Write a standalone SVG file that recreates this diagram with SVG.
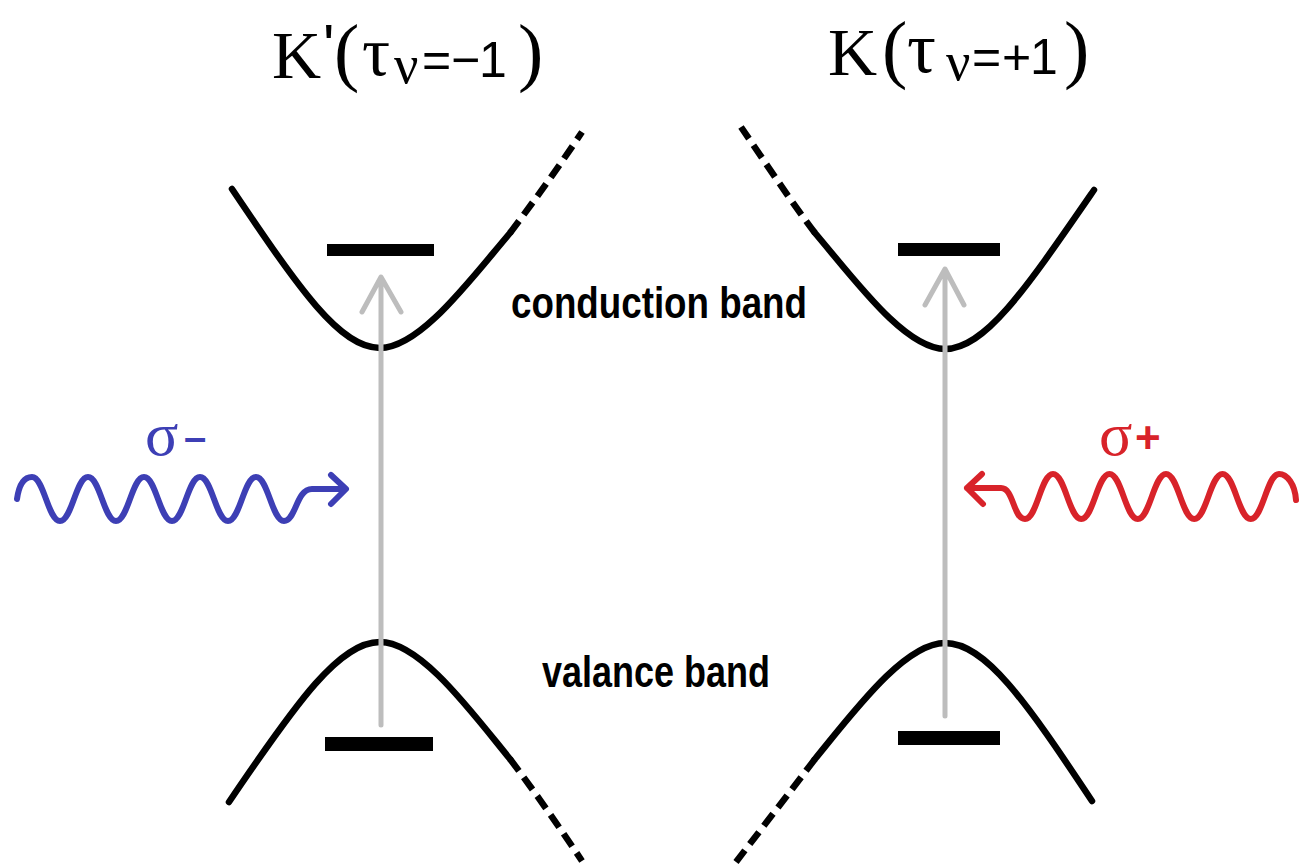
<svg xmlns="http://www.w3.org/2000/svg" width="1308" height="867" viewBox="0 0 1308 867">
<style>
.band{fill:none;stroke:#000;stroke-width:6.5;stroke-linecap:round;stroke-linejoin:round}
.dash{stroke-dasharray:15 8;stroke-linecap:butt}
.lvl{fill:#000}
.ex{fill:none;stroke:#bdbdbd;stroke-width:5;stroke-linecap:round;stroke-linejoin:round}
.wave{fill:none;stroke-width:6;stroke-linecap:round;stroke-linejoin:round}
.serif{font-family:"Liberation Serif","Times New Roman",serif}
.sans{font-family:"Liberation Sans",Arial,sans-serif}
.lbl{font-family:"Liberation Sans",Arial,sans-serif;font-weight:bold;font-size:44px;fill:#000}
</style>
<rect width="1308" height="867" fill="#fff"/>

<g id="title-kprime" fill="#000">
<text class="serif" font-size="68" x="272" y="78">K</text>
<text class="sans" font-size="60" x="323" y="66">'</text>
<text class="serif" font-size="76" x="334" y="77">(</text>
<text class="serif" font-size="70" x="362" y="75">τ</text>
<text class="serif" font-size="54" x="394" y="83">ν</text>
<text class="sans" font-size="50" x="422" y="77">=</text>
<text class="sans" font-size="50" x="451" y="77">−</text>
<text class="sans" font-size="50" x="479" y="77">1</text>
<text class="serif" font-size="76" x="518" y="77">)</text>
</g>

<g id="title-k" fill="#000">
<text class="serif" font-size="68" x="828" y="75">K</text>
<text class="serif" font-size="76" x="882" y="74">(</text>
<text class="serif" font-size="72" x="907" y="72">τ</text>
<text class="serif" font-size="54" x="946" y="80">ν</text>
<text class="sans" font-size="50" x="972" y="74">=</text>
<text class="sans" font-size="50" x="1002" y="74">+</text>
<text class="sans" font-size="50" x="1030" y="74">1</text>
<text class="serif" font-size="76" x="1064" y="74">)</text>
</g>

<g id="cb-left">
<path class="band" d="M232,189 C300,290 340,348 380,348 C420,348 470,280 510,233"/>
<path class="band dash" d="M510,233 C535,200 560,165 582,132"/>
<rect class="lvl" x="327" y="244" width="107" height="12"/>
</g>

<g id="cb-right">
<path class="band" d="M1094,190 C1025,290 985,349 945,349 C905,349 855,280 815,233"/>
<path class="band dash" d="M815,233 C790,200 765,162 741,127"/>
<rect class="lvl" x="898" y="243" width="102" height="13"/>
</g>

<g id="vb-left">
<path class="band" d="M229,802 C298,700 340,642 380,642 C420,642 470,710 510,759"/>
<path class="band dash" d="M510,759 C535,792 560,828 582,861"/>
<rect class="lvl" x="325" y="737" width="108" height="14"/>
</g>

<g id="vb-right">
<path class="band" d="M1092,801 C1025,700 985,643 945,643 C905,643 855,710 815,759"/>
<path class="band dash" d="M815,759 C790,792 762,828 736,862"/>
<rect class="lvl" x="898" y="731" width="102" height="14"/>
</g>

<g id="label-cb">
<text class="lbl" x="511" y="318" textLength="296" lengthAdjust="spacingAndGlyphs">conduction band</text>
</g>
<g id="label-vb">
<text class="lbl" x="542" y="687" textLength="228" lengthAdjust="spacingAndGlyphs">valance band</text>
</g>

<g id="sigma-minus" fill="#3d3fb5">
<text class="serif" font-size="62" x="145" y="455">σ<tspan class="sans" font-weight="bold" font-size="40" x="184" y="451">–</tspan></text>
</g>
<g id="sigma-plus" fill="#d8232a">
<text class="serif" font-size="62" x="1099" y="455">σ<tspan class="sans" font-weight="bold" font-size="44" x="1135" y="453">+</tspan></text>
</g>

<g id="connectors">
<path class="ex" d="M381,725 L381,278 M362,312 L381,277 L401,312"/>
<path class="ex" d="M945,716 L945,270 M925,305 L945,269 L964,305"/>
<path class="wave" stroke="#3d3fb5" d="M17,499 C19,485 24,477 32,477 C44,477 48,521 60,521 C72,521 76,477 88,477 C100,477 104,521 116,521 C128,521 132,477 144,477 C156,477 160,521 172,521 C184,521 188,477 200,477 C212,477 216,521 228,521 C240,521 244,477 256,477 C268,477 272,521 284,521 C296,521 296,489 312,489 L345,489 M331,475 L346,489 L331,504"/>
<path class="wave" stroke="#d8232a" d="M982,474 L967,488 L983,504 M967,488 L1001,488 C1014,488 1013,519 1025,519 C1037,519 1041,474 1053,474 C1065,474 1069.25,519 1081.25,519 C1093.25,519 1097.5,474 1109.5,474 C1121.5,474 1125.75,519 1137.75,519 C1149.75,519 1154,474 1166,474 C1178,474 1182.25,519 1194.25,519 C1206.25,519 1210.5,474 1222.5,474 C1234.5,474 1238.75,519 1250.75,519 C1262.75,519 1267,474 1279,474 C1287,474 1295,484 1296,500"/>
</g>
</svg>
